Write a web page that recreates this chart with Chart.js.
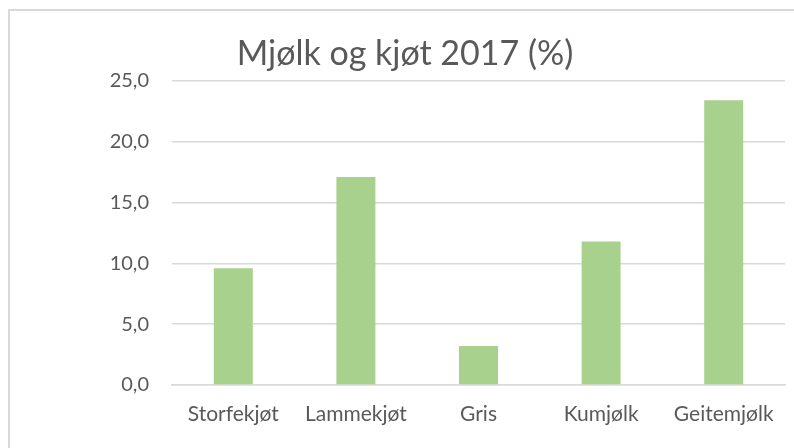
<!DOCTYPE html>
<html>
<head>
<meta charset="utf-8">
<script src="https://cdn.jsdelivr.net/npm/chart.js@4.4.0/dist/chart.umd.min.js"></script>
<style>
  html, body { margin: 0; padding: 0; background: #fff; overflow: hidden; }
  #wrap { position: absolute; left: 0; top: 0; width: 794px; height: 448px; }
  #frame { position: absolute; left: 8px; top: 9px; width: 900px; height: 600px;
           border-left: 2px solid #d9d9d9; border-top: 2px solid #d9d9d9; }
</style>
</head>
<body>
<div id="frame"></div>
<div id="wrap"><canvas id="chart" width="794" height="448"></canvas></div>
<script>
// kategoriar og verdiar (prosent)
const categories = ["Storfekjøt", "Lammekjøt", "Gris", "Kumjølk", "Geitemjølk"];
const values = [9.6, 17.1, 3.2, 11.8, 23.4];
const chartTitle = "Mjølk og kjøt 2017 (%)";
const yMin = 0, yMax = 25, yStep = 5;

const textColor = "#595959";
const gridColor = "#d9d9d9";

new Chart(document.getElementById("chart"), {
    type: "bar",
    data: {
        labels: categories,
        datasets: [{
            data: values,
            backgroundColor: "#a9d18e",
            barPercentage: 0.318,
            categoryPercentage: 1
        }]
    },
    options: {
        responsive: false,
        animation: false,
        layout: { padding: { left: 25, right: 9, top: 0, bottom: 0 } },
        plugins: {
            legend: { display: false },
            tooltip: { enabled: false },
            title: {
                display: true,
                text: chartTitle,
                color: textColor,
                font: { family: "Lato", size: 34, weight: "normal", lineHeight: 1.2 },
                padding: { top: 34, bottom: 6 }
            }
        },
        scales: {
            x: {
                grid: { display: false, drawTicks: false },
                border: { display: true, color: gridColor, width: 1.5 },
                ticks: {
                    color: textColor,
                    font: { family: "Lato", size: 21 },
                    padding: 17,
                    maxRotation: 0
                },
                afterFit: s => { s.height = 63; }
            },
            y: {
                min: yMin,
                max: yMax,
                grid: { color: gridColor, lineWidth: 1.5, drawTicks: false },
                border: { display: false },
                ticks: {
                    stepSize: yStep,
                    color: textColor,
                    font: { family: "Lato", size: 20 },
                    padding: 23,
                    callback: v => v.toFixed(1).replace(".", ",")
                },
                afterFit: s => { s.width = 147; }
            }
        }
    }
});
</script>
</body>
</html>
